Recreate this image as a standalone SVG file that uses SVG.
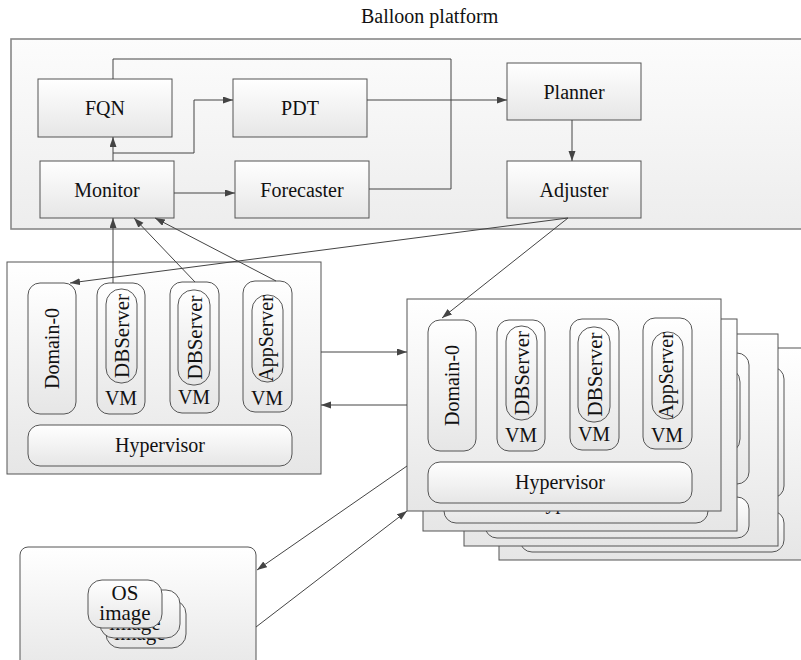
<svg xmlns="http://www.w3.org/2000/svg" xmlns:xlink="http://www.w3.org/1999/xlink" width="801" height="660" viewBox="0 0 801 660">
<style>
text{font-family:"Liberation Serif","Times New Roman",serif;fill:#111;font-size:20px}
.box{fill:url(#gb);stroke:#555;stroke-width:1}
.rb{fill:url(#gb);stroke:#555;stroke-width:1}
.plat{fill:url(#gp);stroke:#888;stroke-width:1.6}
.c{fill:none;stroke:#444;stroke-width:1}
.a{marker-end:url(#arr)}
.m{text-anchor:middle}
</style>
<defs>
<linearGradient id="gb" x1="0" y1="0" x2="0" y2="1"><stop offset="0" stop-color="#ffffff"/><stop offset="1" stop-color="#e6e6e6"/></linearGradient>
<linearGradient id="gp" x1="0" y1="0" x2="0" y2="1"><stop offset="0" stop-color="#fcfcfc"/><stop offset="1" stop-color="#ededed"/></linearGradient>
<marker id="arr" markerUnits="userSpaceOnUse" markerWidth="11" markerHeight="8" refX="10" refY="3.5" orient="auto"><path d="M0,0 L10,3.5 L0,7 z" fill="#444"/></marker>
<g id="shapes">
<rect class="box" x="0" y="0" width="314" height="212"/>
<rect class="rb" x="21" y="21" width="48" height="131" rx="12"/>
<rect class="rb" x="90" y="21" width="48" height="131" rx="12"/>
<rect class="rb" x="99" y="27" width="31" height="94" rx="15"/>
<rect class="rb" x="163" y="20" width="49" height="131" rx="12"/>
<rect class="rb" x="171" y="28" width="32" height="95" rx="15"/>
<rect class="rb" x="236" y="19" width="49" height="131" rx="12"/>
<rect class="rb" x="245" y="33" width="31" height="87" rx="15"/>
<rect class="rb" x="21" y="163" width="264" height="41" rx="12"/>
</g>
<g id="labels">
<text class="m" transform="translate(52,86.5) rotate(-90)">Domain-0</text>
<text class="m" style="font-size:21px" transform="translate(122,74) rotate(-90)">DBServer</text>
<text class="m" x="114" y="143">VM</text>
<text class="m" style="font-size:21px" transform="translate(194.5,75.5) rotate(-90)">DBServer</text>
<text class="m" x="187" y="142">VM</text>
<text class="m" transform="translate(266,76.5) rotate(-90)">AppServer</text>
<text class="m" x="260" y="143">VM</text>
<text class="m" x="153" y="190">Hypervisor</text>
</g>
</defs>
<rect width="801" height="660" fill="#ffffff"/>

<g id="platform">
<text x="361" y="23">Balloon platform</text>
<rect class="plat" x="11" y="39" width="800" height="190"/>
</g>
<g id="fqn"><rect class="box" x="38" y="79" width="134" height="58"/><text class="m" x="105" y="115">FQN</text></g>
<g id="pdt"><rect class="box" x="233" y="79" width="134" height="58"/><text class="m" x="300" y="115">PDT</text></g>
<g id="monitor"><rect class="box" x="40" y="161" width="134" height="57"/><text class="m" x="107" y="197">Monitor</text></g>
<g id="forecaster"><rect class="box" x="235" y="161" width="134" height="57"/><text class="m" x="302" y="197">Forecaster</text></g>
<g id="planner"><rect class="box" x="507" y="63" width="134" height="57"/><text class="m" x="574" y="99">Planner</text></g>
<g id="adjuster"><rect class="box" x="507" y="161" width="134" height="57"/><text class="m" x="574" y="197">Adjuster</text></g>

<g id="left-machine" transform="translate(7,262)"><use xlink:href="#shapes"/><use xlink:href="#labels"/></g>
<g id="machine-4" transform="translate(499,348)"><use xlink:href="#shapes"/></g>
<g id="machine-3" transform="translate(464,334)"><use xlink:href="#shapes"/></g>
<g id="machine-2" transform="translate(423,319)"><use xlink:href="#shapes"/><text class="m" x="153" y="190">Hypervisor</text></g>
<g id="machine-1" transform="translate(407,299)"><use xlink:href="#shapes"/><use xlink:href="#labels"/></g>

<g id="os-images">
<rect class="rb" x="20" y="547" width="236" height="130" rx="8"/>
<rect class="rb" x="106" y="600" width="80" height="48" rx="14"/>
<text class="m" style="font-size:21px" x="140" y="640">image</text>
<rect class="rb" x="100" y="590" width="80" height="48" rx="14"/>
<text class="m" style="font-size:21px" x="135" y="630">image</text>
<rect class="rb" x="88" y="580" width="74" height="48" rx="14"/>
<text class="m" style="font-size:21px" x="125" y="600">OS</text>
<text class="m" style="font-size:21px" x="125" y="620">image</text>
</g>

<g id="connectors">
<path class="c" d="M113,79 V59 H451 V100"/>
<path class="c" d="M369,189 H451 V100"/>
<path class="c a" d="M367,100 H507"/>
<path class="c a" d="M113,161 V137"/>
<path class="c a" d="M113,153 H194 V100 H233"/>
<path class="c a" d="M174,193 H235"/>
<path class="c a" d="M572,120 V161"/>
<path class="c a" d="M568,218 L70,283"/>
<path class="c a" d="M568,218 L442,318"/>
<path class="c a" d="M113,283 V218"/>
<path class="c a" d="M195,282 L134,218"/>
<path class="c a" d="M276,281 L155,218"/>
<path class="c a" d="M321,352 H407"/>
<path class="c a" d="M407,405 H321"/>
<path class="c a" d="M407,466 L257,570"/>
<path class="c a" d="M256,627 L407,511"/>
</g>
</svg>
